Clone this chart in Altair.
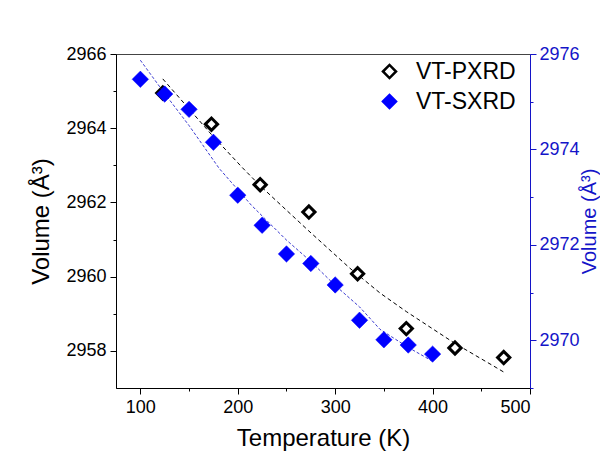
import altair as alt
import pandas as pd

# PXRD (left axis)
pxrd_T = [123, 173, 223, 273, 323, 373, 423, 473]
pxrd_V = [2964.95, 2964.11, 2962.48, 2961.74, 2960.08, 2958.60, 2958.08, 2957.82]
# SXRD (right axis)
sxrd_T = [100, 125, 150, 175, 200, 225, 250, 275, 300, 325, 350, 375, 400]
sxrd_V = [2975.47, 2975.16, 2974.84, 2974.15, 2973.04, 2972.41, 2971.81, 2971.61,
          2971.16, 2970.42, 2970.01, 2969.90, 2969.71]
# fitted curves
pfit_T = [123, 173, 205, 223, 273, 315, 346, 373, 423, 466, 473]
pfit_V = [2965.33, 2963.83, 2962.93, 2962.45, 2961.23, 2960.23, 2959.56, 2959.06,
          2958.20, 2957.54, 2957.43]
sfit_T = [100, 125, 150, 181, 214, 250, 274, 300, 325, 346, 375, 400]
sfit_V = [2975.87, 2975.17, 2974.50, 2973.60, 2972.83, 2972.10, 2971.67, 2971.15,
          2970.70, 2970.23, 2969.85, 2969.56]

series = ["VT-PXRD", "VT-SXRD"]

df_p = pd.DataFrame({"T": pxrd_T, "V": pxrd_V, "s": series[0]})
df_s = pd.DataFrame({"T": sxrd_T, "V": sxrd_V, "s": series[1]})
df_pf = pd.DataFrame({"T": pfit_T, "V": pfit_V})
df_sf = pd.DataFrame({"T": sfit_T, "V": sfit_V})

FONT = "Liberation Sans"
BLUE = "#0000ff"
AXBLUE = "#1414c8"

xscale = alt.Scale(domain=[75, 500], nice=False, zero=False)
xaxis = alt.Axis(values=[100, 150, 200, 250, 300, 350, 400, 450, 500],
                 labelExpr="datum.value % 100 == 0 ? datum.label : ''",
                 title="Temperature (K)", grid=False, format="d",
                 tickSize={"condition": {"test": "datum.value % 100 == 0", "value": 6}, "value": 3},
                 labelPadding=4, titlePadding=10)
x = alt.X("T:Q", scale=xscale, axis=xaxis)

lscale = alt.Scale(domain=[2957, 2966], nice=False, zero=False)
laxis = alt.Axis(values=list(range(2958, 2967)), orient="left", format="d",
                 labelExpr="datum.value % 2 == 0 ? datum.label : ''",
                 title="Volume (Å³)", grid=False,
                 tickSize={"condition": {"test": "datum.value % 2 == 0", "value": 6}, "value": 3},
                 labelPadding=4, titlePadding=12)
rscale = alt.Scale(domain=[2969, 2976], nice=False, zero=False)
raxis = alt.Axis(values=list(range(2969, 2977)), orient="right", format="d",
                 labelExpr="datum.value % 2 == 0 ? datum.label : ''",
                 title="Volume (Å³)", grid=False, titleFontSize=20,
                 titleAngle=270, titleBaseline="top",
                 tickSize={"condition": {"test": "datum.value % 2 == 0", "value": 6}, "value": 3},
                 labelPadding=3, titlePadding=0,
                 domainColor=AXBLUE, tickColor=AXBLUE, labelColor=AXBLUE, titleColor=AXBLUE)

fill = alt.Fill("s:N", scale=alt.Scale(domain=series, range=["white", BLUE]),
                legend=alt.Legend(title=None, orient="none", legendX=262, legendY=6,
                                  symbolType="diamond", symbolSize=170,
                                  symbolStrokeWidth=2.5, labelFontSize=23,
                                  labelFont=FONT, rowPadding=5, padding=0,
                                  labelOffset=15))
stroke = alt.Stroke("s:N", scale=alt.Scale(domain=series, range=["black", BLUE]))

pline = alt.Chart(df_pf).mark_line(color="black", strokeWidth=1, strokeDash=[4, 3]).encode(
    x=x, y=alt.Y("V:Q", scale=lscale, axis=laxis))
ppts = alt.Chart(df_p).mark_point(shape="diamond", filled=True, size=150, strokeWidth=3,
                                   opacity=1).encode(
    x=x, y=alt.Y("V:Q", scale=lscale, axis=laxis), fill=fill, stroke=stroke)
sline = alt.Chart(df_sf).mark_line(color="#3a3ad0", strokeWidth=1, strokeDash=[3, 2]).encode(
    x=x, y=alt.Y("V:Q", scale=rscale, axis=raxis))
spts = alt.Chart(df_s).mark_point(shape="diamond", filled=True, size=270, strokeWidth=0.5,
                                   opacity=1).encode(
    x=x, y=alt.Y("V:Q", scale=rscale, axis=raxis), fill=fill, stroke=stroke)

left = alt.layer(pline, ppts)
right = alt.layer(sline, spts)

chart = alt.layer(left, right).resolve_scale(y="independent").properties(
    width=414, height=334,
    padding={"left": 108, "top": 46, "right": 70, "bottom": 68},
    autosize=alt.AutoSizeParams(type="none"),
    background="white",
).configure_view(stroke="#444444", strokeWidth=1).configure_axis(
    labelFont=FONT, titleFont=FONT, labelFontSize=18, titleFontSize=24,
    titleFontWeight="normal", domainColor="black", tickColor="black",
    labelColor="black", titleColor="black", domainWidth=1, tickWidth=1,
)

chart.save("out.html", embed_options={"renderer": "svg", "actions": False})
